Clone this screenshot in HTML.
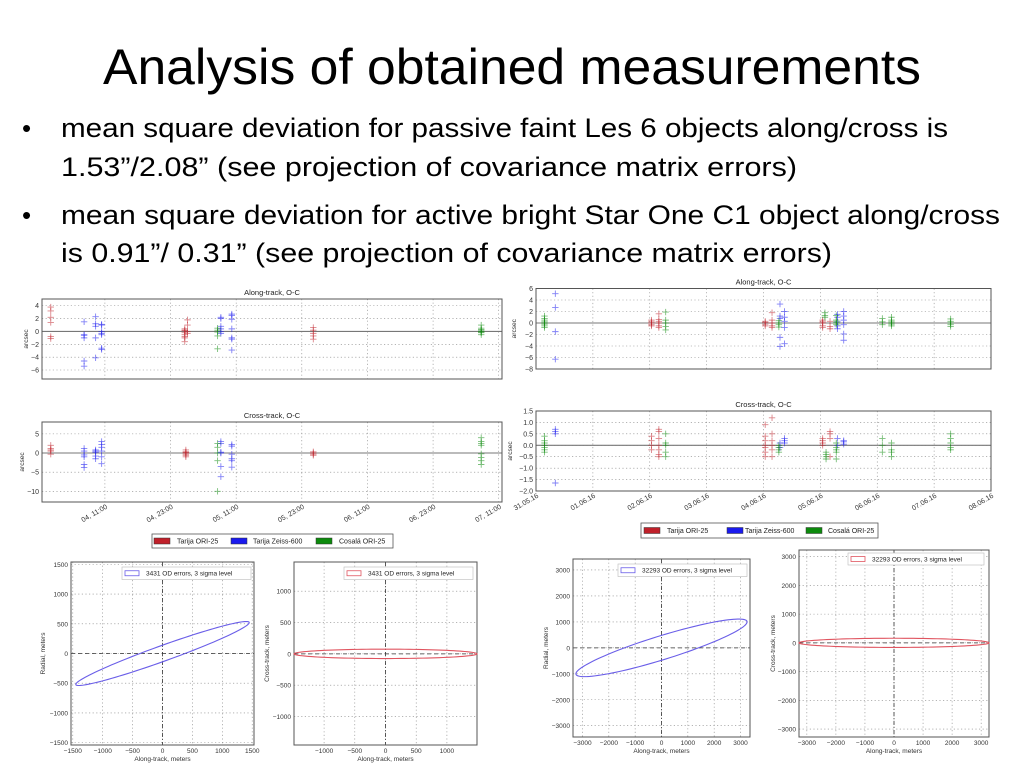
<!DOCTYPE html>
<html><head><meta charset="utf-8"><title>Analysis of obtained measurements</title>
<style>
html,body{margin:0;padding:0;background:#fff;}
svg{display:block;font-family:"Liberation Sans",sans-serif;}
</style></head>
<body>
<svg id="slide" width="1024" height="768" viewBox="0 0 1024 768" xmlns="http://www.w3.org/2000/svg">
<text x="512" y="84" text-anchor="middle" font-size="50" textLength="818" lengthAdjust="spacingAndGlyphs" fill="#000">Analysis of obtained measurements</text>
<text x="22" y="137" font-size="26">•</text>
<text x="61" y="137" font-size="27" textLength="887" lengthAdjust="spacingAndGlyphs">mean square deviation for passive faint Les 6 objects along/cross is</text>
<text x="61" y="176" font-size="27" textLength="736" lengthAdjust="spacingAndGlyphs">1.53”/2.08” (see projection of covariance matrix errors)</text>
<text x="22" y="224" font-size="26">•</text>
<text x="61" y="224" font-size="27" textLength="939" lengthAdjust="spacingAndGlyphs">mean square deviation for active bright Star One C1 object along/cross</text>
<text x="61" y="262" font-size="27" textLength="771" lengthAdjust="spacingAndGlyphs">is 0.91”/ 0.31” (see projection of covariance matrix errors)</text>
<g id="charts"></g>
</svg>
<script>
// ---------- DATA ----------
// Left charts (Les 6): x = hours since 04 00:00
const leftXTicks = [11, 23, 35, 47, 59, 71, 83];
const leftXLabels = ["04, 11:00","04, 23:00","05, 11:00","05, 23:00","06, 11:00","06, 23:00","07, 11:00"];
const leftAlongYTicks = [4, 2, 0, -2, -4, -6];
const leftCrossYTicks = [5, 0, -5, -10];
const leftAlongRed = [[1.1,[3.8,3.2,2.2,1.4,-0.8,-1.1]],[25.6,[0.1,-0.2,-0.5,-1.0,-1.6,0.4,0.2,-0.8]],[26.1,[1.8,1.0,0.0,-0.3]],[49.1,[0.6,0.2,-0.3,-0.7,-1.2]]];
const leftAlongBlue = [[7.2,[1.5,-0.5,-0.6,-4.6,-5.4,-1.0]],[9.3,[2.3,1.2,0.8,-1.0,-4.1]],[10.4,[1.1,1.0,-0.3,-0.5,-2.6,-2.8,0.0]],[32.2,[2.2,2.0,0.8,0.4,-0.3,0.0]],[34.2,[2.7,2.5,1.9,0.4,-1.0,-1.2,-2.9]]];
const leftAlongGreen = [[31.6,[0.5,0.2,-0.1,-0.7,-2.7]],[79.8,[1.0,0.5,0.2,0.0,-0.2,-0.5,0.3,-0.1]]];
const leftCrossRed = [[1.1,[2.0,1.2,0.8,0.5,-0.3]],[25.8,[0.8,0.3,0,-0.3,-0.6,-1.0,0.2]],[49.1,[0.3,0,-0.3,-0.6]]];
const leftCrossBlue = [[7.2,[1.2,0.5,-0.5,-1.0,-3.0,-3.8]],[9.3,[0.8,0.5,0.2,-0.8,-1.5]],[10.4,[3.0,2.2,1.5,0.5,-1.0,-2.8]],[32.2,[3.0,2.5,0.2,0,-3.5,-6.2]],[34.2,[2.2,1.8,-0.3,-1.5,-2.0,-3.7]]];
const leftCrossGreen = [[31.6,[2.5,1.5,0,-2.0,-10]],[79.8,[4.0,3.0,2.5,2.0,-0.2,-1.2,-2.0,-3.0]]];
// Right charts (Star One C1): x = days since 31.05.16
const rightXTicks = [0,1,2,3,4,5,6,7,8];
const rightXLabels = ["31.05.16","01.06.16","02.06.16","03.06.16","04.06.16","05.06.16","06.06.16","07.06.16","08.06.16"];
const rightAlongYTicks = [6,4,2,0,-2,-4,-6,-8];
const rightCrossYTicks = [1.5,1.0,0.5,0.0,-0.5,-1.0,-1.5,-2.0];
const rightAlongRed = [[2.03,[0.5,0.2,0,-0.3,-0.5]],[2.16,[1.6,0.6,0.0,-0.5,-0.8,0.3]],[4.03,[0.3,0.1,-0.2,-0.5]],[4.15,[1.8,0.5,0,-0.5,-0.8]],[5.04,[0.5,0,-0.5,-0.8,0.2]],[5.17,[0.3,-0.6,-1.0]]];
const rightAlongBlue = [[0.34,[5.1,2.7,-1.5,-6.3]],[4.29,[3.3,1.2,0.8,-2.5,-4.1]],[4.37,[2.0,1.0,0.3,-0.8,-3.6]],[5.30,[1.5,1.0,0.2,-0.5,-1.0]],[5.41,[2.0,1.2,0.5,-0.3,-1.9,-3.0]]];
const rightAlongGreen = [[0.15,[1.2,0.8,0.5,0.2,-0.2,-0.5,-0.8,0.0]],[2.28,[1.9,0.5,0,-0.6,-1.2]],[4.27,[0.4,0,-0.3,-0.7]],[5.08,[1.8,1.3,1.0]],[5.28,[1.3,0.5,0.0,-0.3,0.2]],[6.09,[0.8,0.2,-0.3]],[6.25,[1.0,0.5,0.2,-0.2,-0.5,0.0]],[7.29,[0.7,0.3,0.0,-0.3,-0.6]]];
const rightCrossRed = [[2.03,[0.4,0.2,0.0,-0.2]],[2.16,[0.7,0.6,0.3,0.0,-0.2,-0.4,-0.5]],[4.03,[0.9,0.4,0.2,0.0,-0.1,-0.3,-0.5]],[4.15,[1.2,0.5,0.2,0.0,-0.2,-0.5]],[5.04,[0.3,0.2,0.1,0.0]],[5.17,[0.6,0.5,0.3,-0.5]]];
const rightCrossBlue = [[0.34,[0.7,0.6,0.5,-1.65]],[4.29,[0.1,-0.1]],[4.37,[0.3,0.2,0.1]],[5.30,[0.3,0.0]],[5.41,[0.2,0.15,0.05]]];
const rightCrossGreen = [[0.15,[0.4,0.2,0.0,-0.1,-0.2,-0.3,0.1]],[2.28,[0.5,0.1,0.0,-0.3,-0.5]],[4.27,[0.0,-0.1,-0.2,-0.3]],[5.10,[-0.3,-0.4,-0.5,-0.6]],[5.28,[0.1,-0.1,-0.2,-0.3,-0.6]],[6.09,[0.3,0.0,-0.3]],[6.25,[0.1,-0.2,-0.3,-0.5]],[7.29,[0.5,0.3,0.1,-0.1,-0.2]]];
const seriesNames = ["Tarija ORI-25","Tarija Zeiss-600","Cosalá ORI-25"];
// Ellipses: x = A cos t, y = B cos t + C sin t
const ell1Params = [1450, 520, 140];
const ell2Params = [1490, 0, 75];
const ell3Params = [3250, 1000, 480];
const ell4Params = [3270, 0, 160];
const ell1XTicks = [-1500,-1000,-500,0,500,1000,1500];
const ell1YTicks = [1500,1000,500,0,-500,-1000,-1500];
const ell2XTicks = [-1000,-500,0,500,1000];
const ell2YTicks = [1000,500,0,-500,-1000];
const ell34Ticks = [-3000,-2000,-1000,0,1000,2000,3000];

// ---------- DRAWING ----------
const NS = 'http://www.w3.org/2000/svg';
const root = document.getElementById('charts');
const COLORS = ['#c0202a','#1a1aee','#0c8a0c'];
function mk(tag, attrs, parent, txt){
  const e = document.createElementNS(NS, tag);
  for (const k in attrs) e.setAttribute(k, attrs[k]);
  if (txt !== undefined) e.textContent = txt;
  (parent || root).appendChild(e);
  return e;
}
function axes(p){
  p.sx = v => p.x0 + (v - p.xmin) / (p.xmax - p.xmin) * (p.x1 - p.x0);
  p.sy = v => p.y1 - (v - p.ymin) / (p.ymax - p.ymin) * (p.y1 - p.y0);
  return p;
}
function frame(p, name){
  const g = mk('g', {});
  
  
  p.g = g;
  return g;
}
function gridY(p, ticks, fmt, fs){
  ticks.forEach(t => {
    const y = p.sy(t);
    const gl = mk('line', {x1:p.x0, x2:p.x1, y1:y, y2:y, stroke:'#888', 'stroke-width':0.6, 'stroke-dasharray':'1.2,2.4'}, p.g);
    
    
    const tl = mk('text', {x:p.x0-3, y:y+2.5, 'text-anchor':'end', 'font-size':fs||7, fill:'#333'}, p.g, fmt ? fmt(t) : String(t).replace('-', '\u2212'));
    
    
  });
}
function gridX(p, ticks){
  ticks.forEach(t => {
    const x = p.sx(t);
    const gl = mk('line', {x1:x, x2:x, y1:p.y0, y2:p.y1, stroke:'#888', 'stroke-width':0.6, 'stroke-dasharray':'1.2,2.4'}, p.g);
    
    
  });
}
function xLabelsRot(p, ticks, labels, y){
  ticks.forEach((t, i) => {
    const x = p.sx(t);
    const tl = mk('text', {x:x+3, y:y, 'text-anchor':'end', 'font-size':7, fill:'#333', transform:'rotate(-30 '+(x+3)+' '+y+')'}, p.g, labels[i]);
    
    
  });
}
function xLabels(p, ticks, fs){
  ticks.forEach(t => {
    const tl = mk('text', {x:p.sx(t), y:p.y1+8, 'text-anchor':'middle', 'font-size':fs||6.5, fill:'#333'}, p.g, String(t).replace('-', '\u2212'));
    
    
  });
}
function border(p){
  const b = mk('rect', {x:p.x0, y:p.y0, width:p.x1-p.x0, height:p.y1-p.y0, fill:'none', stroke:'#555', 'stroke-width':1}, p.g);
  
  
}
function title(p, txt){
  const t = mk('text', {x:(p.x0+p.x1)/2, y:p.y0-4, 'text-anchor':'middle', 'font-size':7.5, fill:'#222'}, p.g, txt);
  
  
}
function ylabel(p, txt, x){
  const cy = (p.y0+p.y1)/2;
  const t = mk('text', {x:x, y:cy, 'text-anchor':'middle', 'font-size':6.5, fill:'#333', transform:'rotate(-90 '+x+' '+cy+')'}, p.g, txt);
  
  
}
function xlabel(p, txt){
  const t = mk('text', {x:(p.x0+p.x1)/2, y:p.y1+16, 'text-anchor':'middle', 'font-size':6.5, fill:'#333'}, p.g, txt);
  
  
}
function zeroLine(p){
  const z = mk('line', {x1:p.x0, x2:p.x1, y1:p.sy(0), y2:p.sy(0), stroke:'#777', 'stroke-width':1.1}, p.g);
  
  
}
function scatter(p, clusters, ci, name){
  const g = mk('g', {stroke:COLORS[ci], 'stroke-width':0.9, 'stroke-opacity':0.55}, p.g);
  
  
  const s = 3.2;
  clusters.forEach(c => {
    const x = p.sx(c[0]);
    c[1].forEach(v => {
      const y = p.sy(v);
      const m = mk('path', {d:'M'+(x-s)+' '+y+'H'+(x+s)+'M'+x+' '+(y-s)+'V'+(y+s), fill:'none'}, g);
      
      
    });
  });
}
function legend(x0, y0, w, h, sw, txs, name){
  const g = mk('g', {});
  
  
  const b = mk('rect', {x:x0, y:y0, width:w, height:h, fill:'#fff', stroke:'#555', 'stroke-width':0.8}, g);
  
  
  sw.forEach((sx, i) => {
    const r = mk('rect', {x:sx, y:y0+h/2-3, width:16, height:6, fill:COLORS[i], stroke:'#333', 'stroke-width':0.5}, g);
    
    
    const t = mk('text', {x:txs[i], y:y0+h/2+2.5, 'font-size':7, fill:'#222'}, g, seriesNames[i]);
    
    
  });
}

// Left along
const LA = axes({x0:42, x1:502, y0:299, y1:379, xmin:-0.5, xmax:83.6, ymin:-7.4, ymax:5.05});
frame(LA, 'left-along-track-chart');
gridY(LA, leftAlongYTicks); gridX(LA, leftXTicks); zeroLine(LA); border(LA);
title(LA, 'Along-track, O-C'); ylabel(LA, 'arcsec', 28);
scatter(LA, leftAlongRed, 0, 'series-tarija-ori25'); scatter(LA, leftAlongBlue, 1, 'series-tarija-zeiss600'); scatter(LA, leftAlongGreen, 2, 'series-cosala-ori25');
// Left cross
const LC = axes({x0:42, x1:502, y0:422, y1:502, xmin:-0.5, xmax:83.6, ymin:-12.8, ymax:8.1});
frame(LC, 'left-cross-track-chart');
gridY(LC, leftCrossYTicks); gridX(LC, leftXTicks); zeroLine(LC); border(LC);
title(LC, 'Cross-track, O-C'); ylabel(LC, 'arcsec', 24);
scatter(LC, leftCrossRed, 0, 'series-tarija-ori25'); scatter(LC, leftCrossBlue, 1, 'series-tarija-zeiss600'); scatter(LC, leftCrossGreen, 2, 'series-cosala-ori25');
xLabelsRot(LC, leftXTicks, leftXLabels, 508);
legend(152, 534, 241, 14, [154,231,316], [177,253,339], 'left-legend');
// Right along
const RA = axes({x0:536, x1:991, y0:288.5, y1:369, xmin:0, xmax:8, ymin:-8, ymax:6});
frame(RA, 'right-along-track-chart');
gridY(RA, rightAlongYTicks); gridX(RA, rightXTicks); zeroLine(RA); border(RA);
title(RA, 'Along-track, O-C'); ylabel(RA, 'arcsec', 516);
scatter(RA, rightAlongRed, 0, 'series-tarija-ori25'); scatter(RA, rightAlongBlue, 1, 'series-tarija-zeiss600'); scatter(RA, rightAlongGreen, 2, 'series-cosala-ori25');
// Right cross
const RC = axes({x0:536, x1:991, y0:411, y1:491, xmin:0, xmax:8, ymin:-2, ymax:1.5});
frame(RC, 'right-cross-track-chart');
gridY(RC, rightCrossYTicks, t => t.toFixed(1).replace('-', '\u2212')); gridX(RC, rightXTicks); zeroLine(RC); border(RC);
title(RC, 'Cross-track, O-C'); ylabel(RC, 'arcsec', 512);
scatter(RC, rightCrossRed, 0, 'series-tarija-ori25'); scatter(RC, rightCrossBlue, 1, 'series-tarija-zeiss600'); scatter(RC, rightCrossGreen, 2, 'series-cosala-ori25');
xLabelsRot(RC, rightXTicks, rightXLabels, 497);
legend(641, 523, 237, 15, [644,727,806], [667,745,828], 'right-legend');

// Ellipse panels
function ellPanel(p, params, xt, yt, color, leg, ylab, name, ylx){
  frame(p, name);
  gridY(p, yt, null, 6.5); gridX(p, xt); xLabels(p, xt);
  const dx = mk('line', {x1:p.x0, x2:p.x1, y1:p.sy(0), y2:p.sy(0), stroke:'#333', 'stroke-width':0.8, 'stroke-dasharray':'4,3'}, p.g);
  
  
  const dy = mk('line', {x1:p.sx(0), x2:p.sx(0), y1:p.y0, y2:p.y1, stroke:'#333', 'stroke-width':0.8, 'stroke-dasharray':'4,2,1,2'}, p.g);
  
  
  border(p);
  let d = '';
  for (let i = 0; i <= 120; i++){
    const t = i / 120 * 2 * Math.PI;
    const x = params[0]*Math.cos(t), y = params[1]*Math.cos(t) + params[2]*Math.sin(t);
    d += (i ? 'L' : 'M') + p.sx(x).toFixed(2) + ' ' + p.sy(y).toFixed(2);
  }
  const e = mk('path', {d:d+'Z', fill:'none', stroke:color, 'stroke-width':1.1}, p.g);
  
  
  const lb = mk('rect', {x:leg[0], y:leg[1], width:leg[2], height:leg[3], fill:'#fff', stroke:'#bbb', 'stroke-width':0.6}, p.g);
  
  
  const ls = mk('rect', {x:leg[0]+3, y:leg[1]+leg[3]/2-2.5, width:14, height:5, fill:'none', stroke:color, 'stroke-width':0.8}, p.g);
  
  
  const lt = mk('text', {x:leg[0]+24, y:leg[1]+leg[3]/2+2.3, 'font-size':6.5, fill:'#222'}, p.g, leg[4]);
  
  
  ylabel(p, ylab, ylx); xlabel(p, 'Along-track, meters');
}
const E1 = axes({x0:71, x1:254, y0:562, y1:745, xmin:-1530, xmax:1530, ymin:-1540, ymax:1540});
ellPanel(E1, ell1Params, ell1XTicks, ell1YTicks, '#6a5ee8', [122,567,129,12.5,'3431 OD errors, 3 sigma level'], 'Radial, meters', 'ellipse-panel-3431-radial', 45);
const E2 = axes({x0:294, x1:477, y0:562, y1:745, xmin:-1490, xmax:1490, ymin:-1456, ymax:1467});
ellPanel(E2, ell2Params, ell2XTicks, ell2YTicks, '#e05560', [344,567,129,12.5,'3431 OD errors, 3 sigma level'], 'Cross-track, meters', 'ellipse-panel-3431-cross', 269);
const E3 = axes({x0:573, x1:750, y0:559, y1:737, xmin:-3360, xmax:3360, ymin:-3435, ymax:3423});
ellPanel(E3, ell3Params, ell34Ticks, ell34Ticks, '#6a5ee8', [618,564,129,12.5,'32293 OD errors, 3 sigma level'], 'Radial, meters', 'ellipse-panel-32293-radial', 548);
const E4 = axes({x0:799, x1:989, y0:550, y1:737, xmin:-3270, xmax:3270, ymin:-3278, ymax:3232});
ellPanel(E4, ell4Params, ell34Ticks, ell34Ticks, '#e05560', [848,553,136,12,'32293 OD errors, 3 sigma level'], 'Cross-track, meters', 'ellipse-panel-32293-cross', 775);
</script>
</body></html>
